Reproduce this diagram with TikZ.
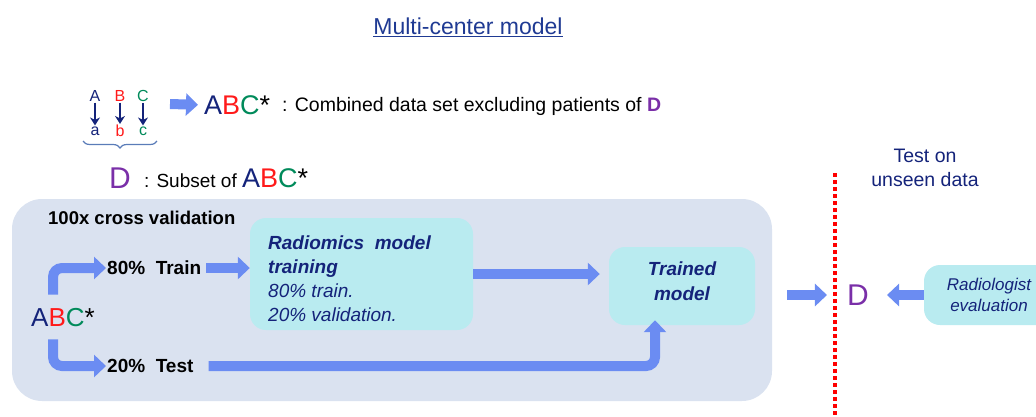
\documentclass[tikz,border=0pt]{standalone}
\usepackage{fontspec}
\setmainfont{Liberation Sans}
\usetikzlibrary{arrows.meta,decorations.pathreplacing}

\definecolor{navy}{HTML}{14237A}
\definecolor{titleblue}{HTML}{1F3A93}
\definecolor{arrowblue}{HTML}{6B8CF2}
\definecolor{panelfill}{HTML}{DAE2F0}
\definecolor{cyanfill}{HTML}{B9EBF0}
\definecolor{redB}{HTML}{FF1A1A}
\definecolor{greenC}{HTML}{008A5A}
\definecolor{purpleD}{HTML}{7A2FA8}
\definecolor{bracecol}{HTML}{5A7CB8}

\newcommand{\bigabc}{\textcolor{navy}{A}\textcolor{redB}{B}\textcolor{greenC}{C}*}

\tikzset{
  fatarrow/.style={draw=arrowblue, line width=10pt, rounded corners=9pt,
    -{Triangle[length=12pt,width=22pt]}},
  smallarr/.style={draw=navy, line width=2.8pt, -{Stealth[length=8pt,width=10pt]}},
  cyanbox/.style={fill=cyanfill, rounded corners=16pt, inner sep=0pt},
  steptext/.style={font=\fontsize{19}{22}\selectfont\bfseries, inner sep=1pt}
}

\begin{document}
\begin{tikzpicture}[x=1pt,y=-1pt]
  \useasboundingbox (0,0) rectangle (1036,416);

  % Title
  \node[font=\fontsize{23}{26}\selectfont, text=titleblue] (title) at (468,27)
    {\underline{Multi-center model}};

  % Centres and their subsets
  \begin{scope}[font=\fontsize{16}{18}\selectfont, inner sep=1pt]
    \node[text=navy] (A) at (95,96) {A};
    \node[text=redB] (B) at (120,96) {B};
    \node[text=greenC] (C) at (143,96) {C};
    \node[text=navy] (a) at (95,131) {a};
    \node[text=redB] (b) at (120,131) {b};
    \node[text=greenC] (c) at (143,131) {c};
  \end{scope}
  \draw[smallarr] (A) -- (a);
  \draw[smallarr] (B) -- (b);
  \draw[smallarr] (C) -- (c);
  \draw[bracecol, line width=1.2pt, decorate, decoration={brace, mirror, amplitude=7pt}]
    (83,141) -- (157,141);

  % Legend
  \node[font=\fontsize{27}{29}\selectfont, anchor=west, inner sep=0pt] (abcTop) at (204,105) {\bigabc};
  \draw[fatarrow, shorten >=6pt] (170,104) -- (abcTop.west);
  \node[font=\fontsize{19.5}{22}\selectfont, anchor=west, inner sep=0pt] (combined) at (282,106)
    {: Combined data set excluding patients of \textcolor{purpleD}{\textbf{D}}};
  \node[font=\fontsize{30}{32}\selectfont, text=purpleD, inner sep=0pt] (Dleg) at (120,178) {D};
  \node[font=\fontsize{19}{22}\selectfont, anchor=west, inner sep=0pt] (subset) at (144,178)
    {: Subset of \fontsize{27}{29}\selectfont\bigabc};

  % Cross validation panel
  \node[fill=panelfill, rounded corners=30pt, minimum width=760pt, minimum height=202pt,
    inner sep=0pt] (cv) at (392,300) {};
  \node[font=\fontsize{18.5}{21}\selectfont\bfseries, anchor=west, inner sep=0pt] (cvlabel) at (48,218)
    {100x cross validation};
  \node[font=\fontsize{26}{28}\selectfont, inner sep=0pt] (abc) at (63,318) {\bigabc};
  \node[steptext, anchor=west] (train) at (106,268) {80\%\ \ Train};
  \node[steptext, anchor=west] (test) at (106,366) {20\%\ \ Test};

  % Boxes
  \node[cyanbox, minimum width=223pt, minimum height=112pt] (rad) at (361.5,274) {};
  \node[anchor=north west, align=left, text=navy, inner sep=0pt,
    font=\fontsize{19}{24}\selectfont\itshape] (radtext) at (268,236)
    {\textbf{Radiomics\ \ model}\\\textbf{training}\\80\% train.\\20\% validation.};
  \node[cyanbox, minimum width=146pt, minimum height=78pt] (trained) at (682,286) {};
  \node[align=center, text=navy, font=\fontsize{19}{25}\selectfont\bfseries\itshape]
    (trainedtext) at (682,281) {Trained\\model};
  \node[cyanbox, minimum width=130pt, minimum height=60pt, align=center, text=navy,
    font=\fontsize{17}{21}\selectfont\itshape] (radio) at (989,295)
    {Radiologist\\evaluation};

  % Test on unseen data
  \node[font=\fontsize{19.5}{24}\selectfont, text=navy, align=center] (unseen) at (925,168)
    {Test on\\unseen data};
  \draw[red, line width=4pt, dash pattern=on 4pt off 3pt] (835,173) -- (835,416);
  \node[font=\fontsize{30}{32}\selectfont, text=purpleD, inner sep=0pt] (Dtest) at (858,295) {D};

  % Arrows
  \draw[fatarrow] ([xshift=-10pt,yshift=14pt]abc.north) |- (train.west);
  \draw[fatarrow] ([xshift=-10pt,yshift=-12pt]abc.south) |- (test.west);
  \draw[fatarrow] ([xshift=4pt]train.east) -- (rad.west |- train.east);
  \draw[fatarrow] (rad.east) -- ([xshift=-9pt]rad.east -| trained.west);
  \draw[fatarrow] ([xshift=14pt]test.east) -| ([xshift=-27pt,yshift=5pt]trained.south);
  \draw[fatarrow] ([xshift=15pt]cv.east |- Dtest) -- ([xshift=-20pt]Dtest.west);
  \draw[fatarrow] (radio.west |- Dtest) -- ([xshift=18pt]Dtest.east);

\end{tikzpicture}
\end{document}
